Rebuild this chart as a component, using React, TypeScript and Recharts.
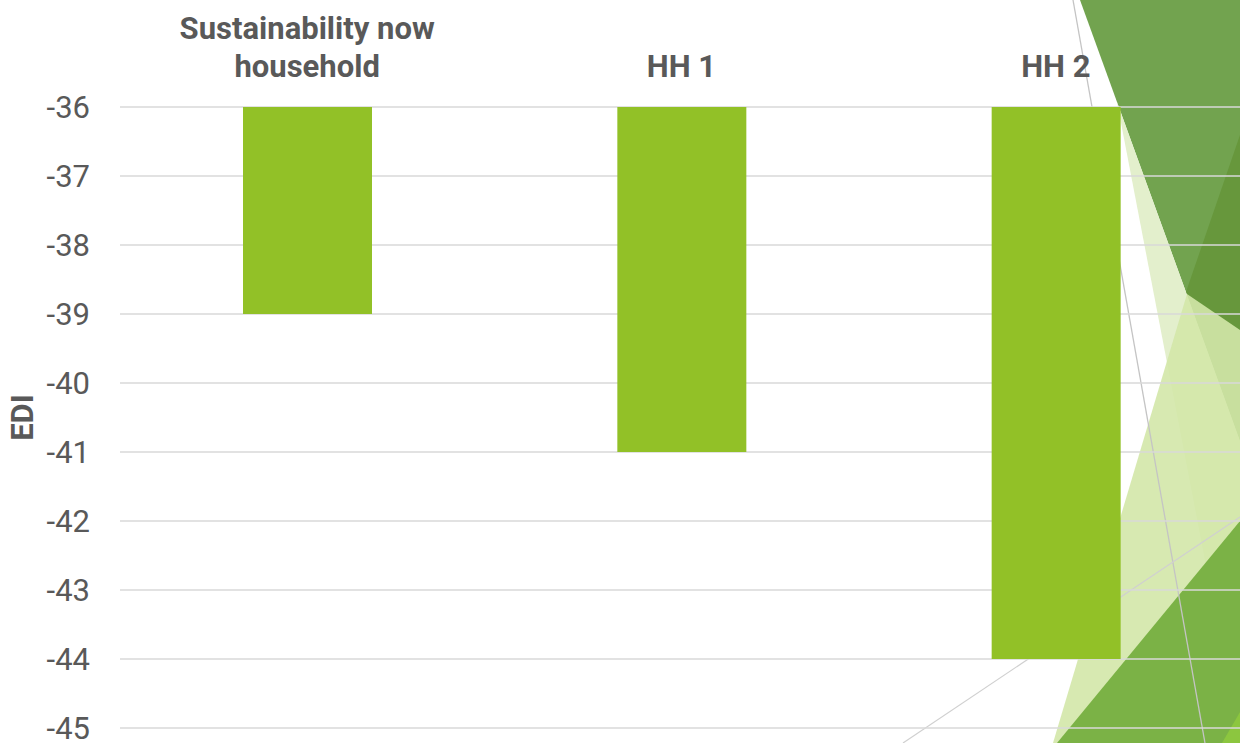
import { BarChart, Bar, XAxis, YAxis, CartesianGrid, Label } from 'recharts';

const categories = ['Sustainability now household', 'HH 1', 'HH 2'];
const categoryLines = [['Sustainability now', 'household'], ['HH 1'], ['HH 2']];
const ediValues = [-39, -41, -44];
const yTicks = [-36, -37, -38, -39, -40, -41, -42, -43, -44, -45];

const data = categories.map((name, i) => ({ name, edi: ediValues[i] }));

const TEXT = '#595959';
const BAR = '#92c127';

function CategoryTick({ x, y, index }: any) {
  const lines = categoryLines[index] || [];
  return (
    <text x={x} y={y} textAnchor="middle" fill={TEXT} fontSize={31} fontWeight="bold" fontFamily="Roboto">
      {lines.map((l, i) => (
        <tspan key={i} x={x} y={y - (lines.length - 1 - i) * 38}>{l}</tspan>
      ))}
    </text>
  );
}

// slide theme decoration behind the chart
function Facets() {
  return (
    <svg width={1240} height={743} style={{ position: 'absolute', left: 0, top: 0 }}>
      <polygon points="1080,0 1240,0 1240,441" fill="#72a34f" />
      <polygon points="1240,135 1240,441 1186,292" fill="#67973c" />
      <polygon points="1117,102 1240,441 1240,743" fill="#e3efcc" />
      <polygon points="1053,743 1187,294 1240,330 1240,743" fill="#d3e7a8" opacity={0.9} />
      <polygon points="1057,743 1240,521 1240,743" fill="#7bb246" />
      <polygon points="1222,743 1240,712 1240,743" fill="#8cc63f" />
      <line x1={1073} y1={0} x2={1205} y2={743} stroke="#c4c4c4" strokeWidth={1.3} />
      <line x1={903} y1={743} x2={1240} y2={517} stroke="#d0d0d0" strokeWidth={1.2} />
    </svg>
  );
}

export default function App() {
  return (
    <div style={{ position: 'absolute', left: 0, top: 0, width: 1240, height: 743, overflow: 'hidden', background: '#fff', fontFamily: 'Roboto' }}>
      <Facets />
      <div style={{ position: 'absolute', left: 0, top: 0 }}>
        <BarChart width={1243} height={743} data={data} margin={{ top: 0, right: 0, bottom: 15, left: 0 }}>
          <CartesianGrid vertical={false} stroke="#d9d9d9" strokeWidth={1.5} />
          <XAxis
            dataKey="name"
            orientation="top"
            height={107}
            axisLine={false}
            tickLine={false}
            tickSize={0}
            tickMargin={30}
            interval={0}
            tick={<CategoryTick />}
          />
          <YAxis
            domain={[-45, -36]}
            ticks={yTicks}
            width={120}
            axisLine={false}
            tickLine={false}
            tickSize={0}
            tickMargin={30}
            interval={0}
            tick={{ fill: TEXT, fontSize: 31, fontFamily: 'Roboto' }}
          >
            <Label
              content={({ viewBox }: any) => {
                const cy = viewBox.y + viewBox.height / 2;
                return (
                  <text x={33} y={cy} transform={`rotate(-90, 33, ${cy})`} textAnchor="middle" fill={TEXT} fontSize={31} fontWeight="bold" fontFamily="Roboto">
                    EDI
                  </text>
                );
              }}
            />
          </YAxis>
          <Bar dataKey="edi" fill={BAR} barSize={129} isAnimationActive={false} />
        </BarChart>
      </div>
    </div>
  );
}
